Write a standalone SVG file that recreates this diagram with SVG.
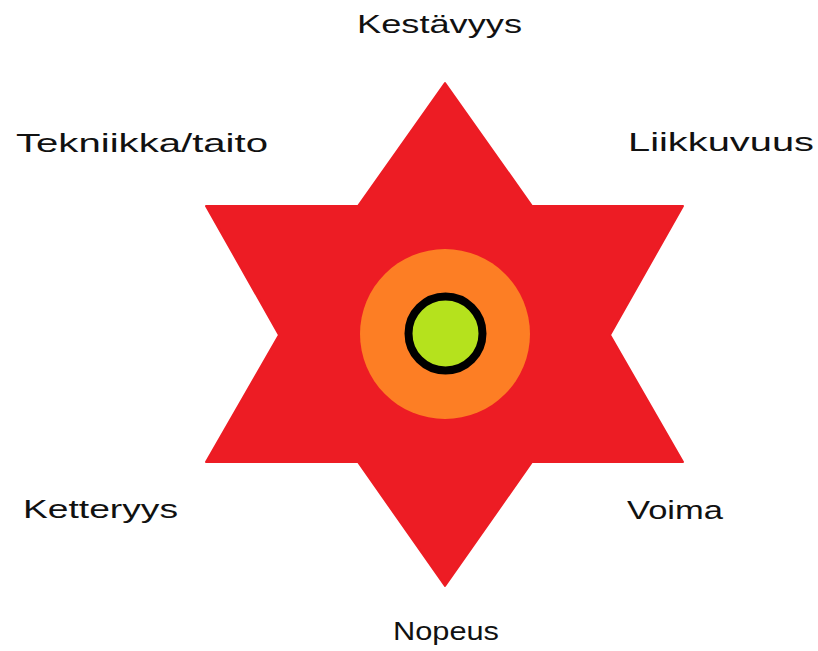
<svg xmlns="http://www.w3.org/2000/svg" width="818" height="651" viewBox="0 0 818 651">
<style>
.lbl{font-family:"Liberation Sans","DejaVu Sans",sans-serif;font-size:26px;fill:#111;}
</style>
<rect width="818" height="651" fill="#ffffff"/>
<g id="star">
<polygon points="445,83 532,206 683,206 610,335 683,462 532,462 445,586 358,462 206,462 279,335 206,206 358,206" fill="#ed1c24" stroke="#ed1c24" stroke-width="2" stroke-linejoin="round"/>
</g>
<g id="core">
<circle cx="445" cy="334" r="85" fill="#fd7e24"/>
<circle cx="445.5" cy="333.5" r="37" fill="#b5e21d" stroke="#000" stroke-width="8"/>
</g>
<g id="connectors"></g>
<g id="kestavyys"><text class="lbl" x="357" y="33" textLength="165" lengthAdjust="spacingAndGlyphs">Kestävyys</text></g>
<g id="tekniikka"><text class="lbl" x="16" y="152" textLength="252" lengthAdjust="spacingAndGlyphs">Tekniikka/taito</text></g>
<g id="liikkuvuus"><text class="lbl" x="628" y="151" textLength="186" lengthAdjust="spacingAndGlyphs">Liikkuvuus</text></g>
<g id="ketteryys"><text class="lbl" x="23" y="518" textLength="155" lengthAdjust="spacingAndGlyphs">Ketteryys</text></g>
<g id="voima"><text class="lbl" x="627" y="519" textLength="96" lengthAdjust="spacingAndGlyphs">Voima</text></g>
<g id="nopeus"><text class="lbl" x="393" y="640" textLength="106" lengthAdjust="spacingAndGlyphs">Nopeus</text></g>
</svg>
